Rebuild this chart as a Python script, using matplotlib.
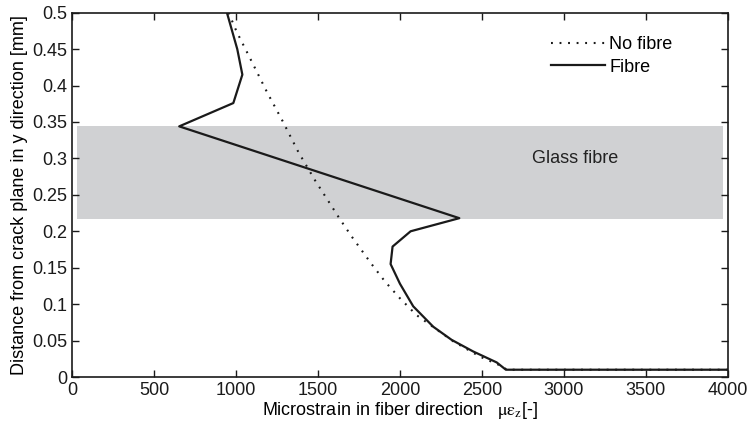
import numpy as np
import matplotlib.pyplot as plt

plt.rcParams['font.family'] = ['Liberation Sans', 'DejaVu Sans']
plt.rcParams['mathtext.fontset'] = 'stix'

# fibre curve (strain, distance)
fibre_x = [945, 1008, 1039, 984, 654, 2362, 2065, 1955, 1943, 2000, 2081,
           2203, 2315, 2447, 2590, 2646, 4000]
fibre_y = [0.500, 0.450, 0.415, 0.376, 0.344, 0.218, 0.200, 0.179, 0.155,
           0.128, 0.097, 0.069, 0.051, 0.035, 0.020, 0.010, 0.010]

# no fibre curve
nofib_x = [955, 1004, 1096, 1187, 1285, 1380, 1482, 1630, 1705, 1827, 1909,
           2000, 2101, 2213, 2325, 2488, 2630, 2650, 4000]
nofib_y = [0.500, 0.474, 0.433, 0.392, 0.351, 0.309, 0.270, 0.218, 0.193,
           0.155, 0.131, 0.108, 0.085, 0.067, 0.049, 0.028, 0.014, 0.010, 0.010]

glass_x = [30, 3970]
glass_y = [0.2166, 0.345]

fig = plt.figure(figsize=(7.52, 4.32), dpi=100)
ax = fig.add_axes([0.0957, 0.1273, 0.8723, 0.8433])

ax.fill_between(glass_x, glass_y[0], glass_y[1], color='#d0d1d3', lw=0, zorder=1)
ax.text(3067, 0.30, 'Glass fibre', fontsize=13, ha='center', va='center', color='#222222')

ax.plot(nofib_x, nofib_y, linestyle=(0, (0.9, 3.2)), color='#1a1a1a', lw=1.5,
        label='No fibre', zorder=3)
ax.plot(fibre_x, fibre_y, '-', color='#1a1a1a', lw=1.6, label='Fibre', zorder=3)

ax.set_xlim(0, 4000)
ax.set_ylim(0, 0.5)
ax.set_xticks(np.arange(0, 4001, 500))
ax.set_yticks(np.arange(0, 0.501, 0.05))
ax.set_yticklabels(['0', '0.05', '0.1', '0.15', '0.2', '0.25', '0.3', '0.35', '0.4', '0.45', '0.5'])
ax.tick_params(direction='in', top=True, right=True, labelsize=13, length=5, width=1, colors='#1a1a1a')
for s in ax.spines.values():
    s.set_linewidth(1.2)
    s.set_color('#1a1a1a')

ax.set_xlabel(r'Microstrain in fiber direction   $\mathrm{\mu\varepsilon}_\mathrm{z}$[-]',
              fontsize=13, labelpad=1)
ax.set_ylabel('Distance from crack plane in y direction [mm]', fontsize=13, labelpad=3)

leg = ax.legend(loc='upper right', bbox_to_anchor=(0.94, 0.98), frameon=False, fontsize=13,
                handlelength=3.0, handletextpad=0.2, labelspacing=0.3)

fig.savefig('out.png', dpi=100)
